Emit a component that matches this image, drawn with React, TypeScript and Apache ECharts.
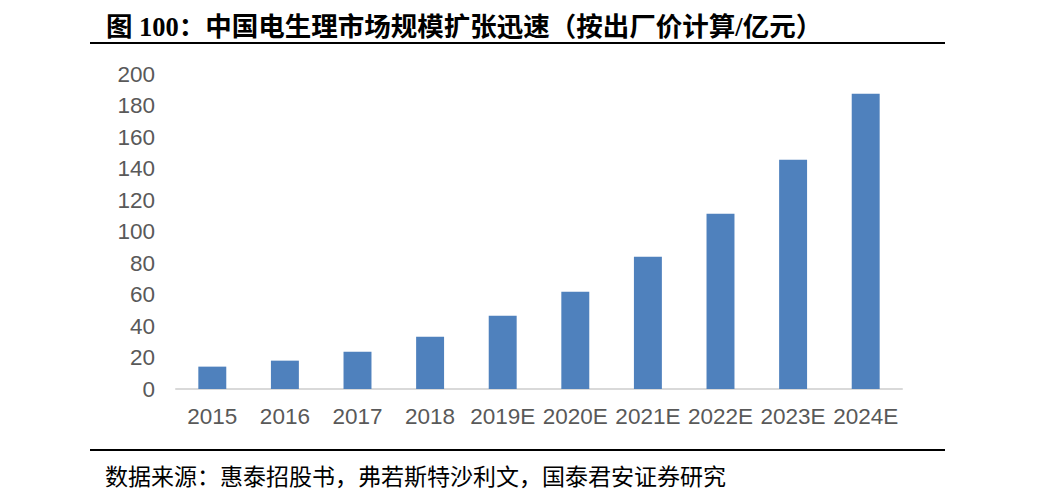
import React, { useEffect, useRef } from "react";
import * as echarts from "echarts";

const categories = ["2015", "2016", "2017", "2018", "2019E", "2020E", "2021E", "2022E", "2023E", "2024E"];
const marketSize = [14.2, 18.0, 23.7, 33.2, 46.5, 61.8, 84.0, 111.3, 145.6, 187.5];
const titleText = "图 100：中国电生理市场规模扩张迅速（按出厂价计算/亿元）";
const sourceText = "数据来源：惠泰招股书，弗若斯特沙利文，国泰君安证券研究";

const serifCJK = '"Times New Roman", "Liberation Serif", "Noto Sans CJK SC", serif';
const sans = '"Liberation Sans", Arial, sans-serif';

export default function App() {
  const ref = useRef<HTMLDivElement>(null);
  useEffect(() => {
    if (!ref.current) return;
    const chart = echarts.init(ref.current, undefined, { renderer: "svg" });
    chart.setOption({
      animation: false,
      backgroundColor: "#ffffff",
      title: [
        {
          text: titleText,
          left: 101,
          top: 9,
          textStyle: { fontFamily: serifCJK, fontSize: 26.5, fontWeight: "bold", color: "#000" },
        },
        {
          text: sourceText,
          left: 100,
          top: 461,
          textStyle: { fontFamily: serifCJK, fontSize: 23, fontWeight: "normal", color: "#000" },
        },
      ],
      graphic: [
        { type: "line", shape: { x1: 90, y1: 43, x2: 945, y2: 43 }, style: { stroke: "#000", lineWidth: 2 } },
        { type: "line", shape: { x1: 90, y1: 450, x2: 945, y2: 450 }, style: { stroke: "#000", lineWidth: 2 } },
      ],
      grid: { left: 176, right: 141, top: 74, bottom: 105, containLabel: false },
      xAxis: {
        type: "category",
        data: categories,
        axisLine: { show: true, lineStyle: { color: "#d9d9d9", width: 2 } },
        axisTick: { show: false },
        axisLabel: { interval: 0, fontFamily: sans, fontSize: 22.5, color: "#595959", margin: 16 },
      },
      yAxis: {
        type: "value",
        min: 0,
        max: 200,
        interval: 20,
        axisLine: { show: false },
        axisTick: { show: false },
        splitLine: { show: false },
        axisLabel: { fontFamily: sans, fontSize: 22.5, color: "#595959", margin: 21 },
      },
      series: [
        {
          type: "bar",
          data: marketSize,
          barWidth: "38.5%",
          itemStyle: { color: "#4f81bd" },
        },
      ],
    });
    return () => chart.dispose();
  }, []);
  return <div ref={ref} style={{ position: "fixed", left: 0, top: 0, width: 1043, height: 494 }} />;
}
